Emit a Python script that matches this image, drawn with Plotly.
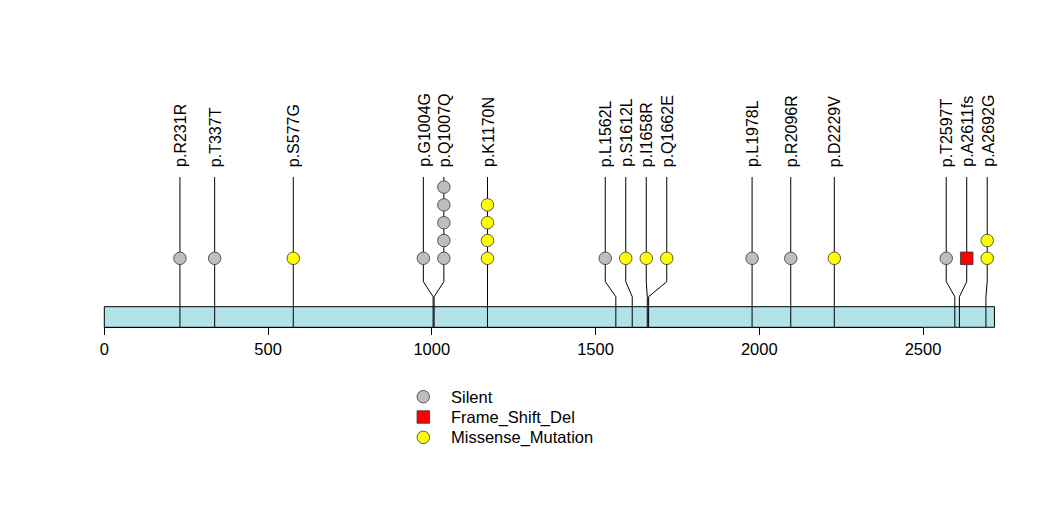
import plotly.graph_objects as go

# ---------------- data ----------------
labels = ["p.R231R", "p.T337T", "p.S577G", "p.G1004G", "p.Q1007Q", "p.K1170N",
          "p.L1562L", "p.S1612L", "p.I1658R", "p.Q1662E", "p.L1978L", "p.R2096R",
          "p.D2229V", "p.T2597T", "p.A2611fs", "p.A2692G"]
positions = [231, 337, 577, 1004, 1007, 1170, 1562, 1612, 1658, 1662, 1978, 2096,
             2229, 2597, 2611, 2692]
counts = [1, 1, 1, 1, 5, 4, 1, 1, 1, 1, 1, 1, 1, 1, 1, 2]
types = ["Silent", "Silent", "Missense_Mutation", "Silent", "Silent", "Missense_Mutation",
         "Silent", "Missense_Mutation", "Missense_Mutation", "Missense_Mutation", "Silent",
         "Silent", "Missense_Mutation", "Silent", "Frame_Shift_Del", "Missense_Mutation"]
protein_length = 2718
tick_values = [0, 500, 1000, 1500, 2000, 2500]
legend_order = ["Silent", "Frame_Shift_Del", "Missense_Mutation"]

# ---------------- styles ----------------
colors = {"Silent": "#BEBEBE", "Frame_Shift_Del": "#FF0000", "Missense_Mutation": "#FFFF00"}
symbols = {"Silent": "circle", "Frame_Shift_Del": "square", "Missense_Mutation": "circle"}

W, H = 1047, 524
X0_PX, PX_PER_UNIT = 104.3, 0.3275       # horizontal scale of the track
BAR_TOP, BAR_BOT = 306.7, 327.3          # vertical layout (pixels from top)
ELBOW_LOW, ELBOW_HIGH = 296.7, 281.7
STEM_TOP = 177.0
LABEL_BASE = 169.0
HEAD_Y, HEAD_STEP = 258.3, 17.8
MIN_GAP_PX = 20.5
FONT = "Liberation Sans, Arial, sans-serif"
FS_LABEL = 16
FS = 16.5

x_lo = -X0_PX / PX_PER_UNIT
x_hi = (W - X0_PX) / PX_PER_UNIT
gap = MIN_GAP_PX / PX_PER_UNIT


def spread(pos, gap):
    """Spread lollipop heads so neighbours are at least `gap` apart."""
    clusters = [[p] for p in pos]
    while True:
        disp = []
        for c in clusters:
            m = sum(c) / len(c)
            n = len(c)
            disp.append([m + (j - (n - 1) / 2) * gap for j in range(n)])
        merged = False
        for i in range(len(clusters) - 1):
            if disp[i][-1] + gap > disp[i + 1][0] + 1e-9:
                clusters[i] = clusters[i] + clusters[i + 1]
                del clusters[i + 1]
                merged = True
                break
        if not merged:
            return [d for ds in disp for d in ds]


display = spread(positions, gap)

fig = go.Figure()

# protein bar
fig.add_shape(type="rect", x0=0, x1=protein_length, y0=BAR_TOP, y1=BAR_BOT,
              xref="x", yref="y", fillcolor="#B0E2E6",
              line=dict(color="black", width=1), layer="below")

# stems
sx, sy = [], []
for p, d in zip(positions, display):
    sx += [p, p, d, d, None]
    sy += [BAR_BOT, ELBOW_LOW, ELBOW_HIGH, STEM_TOP, None]
fig.add_trace(go.Scatter(x=sx, y=sy, mode="lines", line=dict(color="black", width=1),
                         hoverinfo="skip", showlegend=False))

# heads
for t in legend_order:
    hx, hy = [], []
    for d, c, tt in zip(display, counts, types):
        if tt == t:
            for k in range(c):
                hx.append(d)
                hy.append(HEAD_Y - k * HEAD_STEP)
    fig.add_trace(go.Scatter(x=hx, y=hy, mode="markers", name=t, showlegend=False,
                             marker=dict(symbol=symbols[t], size=12.5, color=colors[t],
                                         line=dict(color="#333333", width=0.8))))

# labels
for lab, d in zip(labels, display):
    fig.add_annotation(x=d, y=LABEL_BASE, text=lab, textangle=-90, showarrow=False,
                       xanchor="center", yanchor="bottom", xshift=0.5,
                       font=dict(family=FONT, size=FS_LABEL, color="black"))

# manual legend
LEG_X_PX, LEG_TEXT_PX, LEG_Y0, LEG_STEP = 423.3, 449.3, 396.7, 20.3
for i, t in enumerate(legend_order):
    yy = LEG_Y0 + i * LEG_STEP
    fig.add_trace(go.Scatter(x=[(LEG_X_PX - X0_PX) / PX_PER_UNIT], y=[yy], mode="markers",
                             showlegend=False, hoverinfo="skip",
                             marker=dict(symbol=symbols[t], size=12.5, color=colors[t],
                                         line=dict(color="#333333", width=0.8))))
    fig.add_annotation(x=(LEG_TEXT_PX - X0_PX) / PX_PER_UNIT, y=yy, text=t, showarrow=False,
                       xanchor="left", yanchor="middle",
                       font=dict(family=FONT, size=FS, color="black"))

# axis for ticks (positioned at the bar bottom, spanning 0..2500)
ax_left = (X0_PX) / W
ax_right = (X0_PX + tick_values[-1] * PX_PER_UNIT) / W
fig.add_trace(go.Scatter(x=[tick_values[0], tick_values[-1]], y=[0, 0], xaxis="x2",
                         yaxis="y2", mode="markers", marker=dict(opacity=0),
                         hoverinfo="skip", showlegend=False))

fig.update_layout(
    width=W, height=H, autosize=False,
    margin=dict(l=0, r=0, t=0, b=0, autoexpand=False),
    paper_bgcolor="white", plot_bgcolor="rgba(0,0,0,0)",
    xaxis=dict(range=[x_lo, x_hi], visible=False, fixedrange=True, automargin=False),
    yaxis=dict(range=[H, 0], visible=False, fixedrange=True, automargin=False),
    xaxis2=dict(domain=[ax_left, ax_right], range=[tick_values[0], tick_values[-1]],
                anchor="y2", showline=True, linecolor="black", linewidth=1,
                ticks="outside", ticklen=7, tickcolor="black", tickwidth=1,
                tickvals=tick_values, ticktext=[str(v) for v in tick_values],
                showgrid=False, zeroline=False, automargin=False, fixedrange=True,
                tickfont=dict(family=FONT, size=FS, color="black")),
    yaxis2=dict(domain=[(H - BAR_BOT) / H, 1], range=[0, 1], visible=False,
                anchor="x2", automargin=False, fixedrange=True),
    showlegend=False,
)

post = ("document.body.style.margin='0';document.body.style.overflow='hidden';"
        "var gd=document.getElementById('{plot_id}');"
        "Plotly.relayout(gd,{width:%d,height:%d});" % (W, H))
fig.write_html("out.html", config={"responsive": False, "displayModeBar": False},
               post_script=post)
